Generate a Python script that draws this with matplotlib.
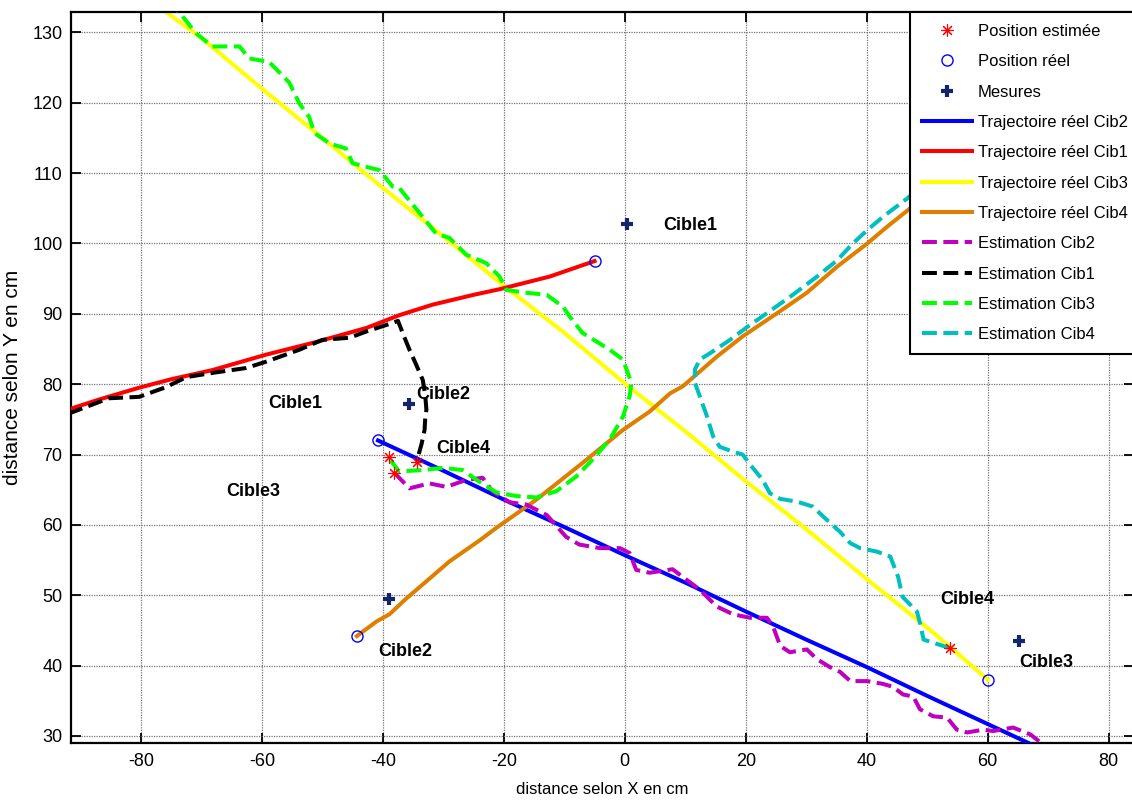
import matplotlib
matplotlib.use('Agg')
import matplotlib.pyplot as plt

plt.rcParams['font.family'] = ['Liberation Sans', 'DejaVu Sans']
plt.rcParams['axes.unicode_minus'] = False
fs = 13

# trajectoires reelles
cib1_x = [-92, -87, -80.3, -75, -68.2, -59.3, -51, -42.7, -37.3, -31.8, -25, -20.7, -12.4, -5.0]
cib1_y = [76.4, 77.8, 79.5, 80.7, 82.0, 84.2, 86.0, 88.0, 89.8, 91.3, 92.7, 93.5, 95.3, 97.5]
cib2_x = [-40.8, -30, -20, -10, 0, 10, 20, 30, 40, 50, 60, 67]
cib2_y = [72.0, 67.7, 63.6, 59.7, 55.7, 51.8, 47.7, 43.7, 39.8, 35.7, 31.7, 28.9]
cib3_x = [-76, -70, -60, -50, -40, -30, -20, -10, 0, 10, 20, 30, 40, 50, 54, 60]
cib3_y = [133, 129.2, 122, 115, 107.9, 101, 94, 87.3, 80.1, 73.3, 66.2, 59.4, 52.3, 45.4, 42.5, 38]
cib4_x = [-44.3, -41, -38.9, -36.3, -29, -24, -21.2, -14.6, -7, -0.3, 4.1, 7.5, 9.6, 15.2,
          19.5, 25.2, 30.1, 35.1, 40.1, 43.4, 46.9, 52, 58]
cib4_y = [44.2, 46.3, 47.3, 49.4, 54.8, 57.8, 59.6, 63.6, 68.8, 73.5, 76.1, 78.7, 79.7, 83.9,
          86.8, 90.1, 93.0, 96.7, 100.0, 102.4, 104.8, 108.5, 112.5]

# estimations
est1_x = [-92, -85.3, -80.3, -75.8, -72.5, -68.2, -62.6, -59.3, -53.8, -50, -45.5, -42.7, -38.4,
          -37.5, -36.5, -35.6, -34.5, -33.4, -33.0, -32.8, -33.0, -33.1, -33.6, -34.4]
est1_y = [75.8, 78.0, 78.2, 79.6, 81.0, 81.6, 82.3, 83.2, 84.9, 86.3, 86.6, 87.5, 88.7,
          89.0, 86.8, 84.9, 82.8, 80.6, 78.5, 76.4, 75.0, 73.5, 71.5, 69.0]
est2_x = [-38.1, -35.6, -32.3, -29.5, -26.2, -23.5, -21.9, -19, -16.3, -12.9, -9.7, -7.5, -4.1,
          -0.8, 0.8, 1.9, 4.1, 7.9, 9.6, 12.4, 15.2, 17.9, 20.7, 23.5, 24.5, 25.7, 27.3, 30.1,
          31.8, 33.9, 35.6, 37.3, 40.1, 42.7, 44.3, 46, 47.7, 48.8, 51, 53.3, 54.9, 56.6, 59.3,
          60.9, 64.2, 67.1, 68.7]
est2_y = [67.4, 65.2, 65.9, 65.4, 66.4, 66.7, 64.8, 63.2, 62.9, 61.4, 58.3, 57.2, 56.7,
          56.7, 56.0, 53.6, 53.2, 53.7, 52.6, 50.8, 48.4, 47.3, 46.8, 46.8, 45.6, 42.8, 41.9, 42.3,
          40.9, 39.8, 39.1, 37.8, 37.8, 37.4, 37.0, 35.9, 35.6, 33.8, 32.8, 32.6, 30.9, 30.5, 30.9,
          30.7, 31.2, 30.2, 29.1]
est3_x = [-75.5, -73.7, -70.9, -68.2, -63.7, -62.1, -58.8, -55.5, -53.8, -52.2, -51.3, -48.8, -46.1,
          -45.0, -40.5, -38.4, -37.3, -33.9, -31.2, -29.0, -26.2, -22.9, -20.7, -19.6, -16.3,
          -12.9, -10.2, -9.1, -7.0, -2.5, -0.3, 1.1, 0.8, -0.3, -2.5, -5.3, -8.0, -11.3, -14.6,
          -17.9, -21.2, -24.5, -26.8, -30.1, -33.4, -37.3, -38.4, -39.0]
est3_y = [134.5, 132.9, 129.9, 128, 128, 126.3, 125.8, 122.9, 119.9, 118, 115.7, 114.2, 113.5,
          111.4, 110.4, 108.1, 107.9, 104.3, 101.4, 100.8, 98.4, 97.2, 95.3, 93.4, 93,
          92.7, 91.0, 89.6, 87.3, 84.9, 83.5, 80.2, 78.3, 75.4, 72.1, 69.3, 66.9, 64.8, 63.9,
          64.1, 64.6, 66.4, 67.8, 68.1, 67.8, 67.6, 68.8, 69.8]
est4_x = [53.7, 49.4, 48.8, 48.3, 45.9, 45.2, 43.9, 41.7, 38.9, 37.3, 35.6, 32.8, 31.1, 28.5,
          25.7, 24.0, 22.8, 20.7, 19.5, 17.9, 15.7, 14.6, 13.6, 12.4, 11.6, 11.6, 12.4, 14.1,
          17.4, 20.2, 23.5, 27.3, 31.8, 35.1, 37.7, 40.1, 42.7, 46.7, 52, 58]
est4_y = [42.5, 43.7, 46.1, 47.7, 49.8, 52.6, 55.5, 56.2, 56.7, 57.4, 59.0, 61.2, 62.6, 63.3,
          63.7, 64.5, 66.4, 68.6, 70.0, 70.4, 71.1, 72.6, 75.4, 78.3, 80.2, 82.1, 83.5, 84.4,
          86.3, 88.1, 90.1, 92.4, 95.3, 97.6, 100.0, 101.9, 103.8, 106.4, 110.5, 115]

# points
pos_est_x = [-34.4, -38.1, -38.9, 53.7]
pos_est_y = [69.0, 67.4, 69.7, 42.5]
pos_reel_x = [-5.0, -40.8, -44.3, 60.0]
pos_reel_y = [97.5, 72.0, 44.2, 38.0]
mes_x = [0.3, -35.6, -38.9, 65.1]
mes_y = [102.8, 77.2, 49.4, 43.5]

cible_txt = ['Cible1', 'Cible2', 'Cible3', 'Cible4', 'Cible1', 'Cible2', 'Cible3', 'Cible4']
cible_x = [6.3, -34.5, 65.2, -31.1, -59.0, -40.8, -65.9, 52.2]
cible_y = [102.5, 78.5, 40.4, 70.8, 77.2, 42.0, 64.7, 49.4]

fig = plt.figure(figsize=(11.32, 8.05), dpi=100)
ax = fig.add_axes([0.0625, 0.077, 0.9393, 0.9081])

lw = 2.9
ax.plot(pos_est_x, pos_est_y, ls='none', marker=(8, 2, 0), ms=9, mec='red', mew=0.8,
        label='Position estimée', zorder=6)
ax.plot(pos_reel_x, pos_reel_y, ls='none', marker='o', ms=8, mfc='none', mec='blue', mew=1,
        label='Position réel', zorder=6)
ax.plot(mes_x, mes_y, ls='none', marker='+', ms=9, mec='#14256b', mew=3,
        label='Mesures', zorder=6)

ax.plot(cib2_x, cib2_y, c='blue', lw=lw, label='Trajectoire réel Cib2', zorder=3)
ax.plot(cib1_x, cib1_y, c='red', lw=lw, label='Trajectoire réel Cib1', zorder=3)
ax.plot(cib3_x, cib3_y, c='yellow', lw=lw, label='Trajectoire réel Cib3', zorder=2)
ax.plot(cib4_x, cib4_y, c='#de7f00', lw=lw, label='Trajectoire réel Cib4', zorder=3)

ax.plot(est2_x, est2_y, c='#bf00bf', lw=lw, ls='--', label='Estimation Cib2', zorder=4)
ax.plot(est1_x, est1_y, c='black', lw=lw, ls='--', label='Estimation Cib1', zorder=4)
ax.plot(est3_x, est3_y, c='#00ff00', lw=lw, ls='--', label='Estimation Cib3', zorder=4)
ax.plot(est4_x, est4_y, c='#00bfbf', lw=lw, ls='--', label='Estimation Cib4', zorder=4)

for t, x, y in zip(cible_txt, cible_x, cible_y):
    ax.text(x, y, t, fontsize=fs, fontweight='bold', ha='left', va='center', zorder=7)

ax.set_xlim(-91.6, 84.2)
ax.set_ylim(29.0, 132.9)
ax.set_xticks([-80, -60, -40, -20, 0, 20, 40, 60, 80])
ax.set_yticks([30, 40, 50, 60, 70, 80, 90, 100, 110, 120, 130])
ax.grid(True, color='0.45', ls=(0, (1, 1)), lw=0.9)
ax.tick_params(direction='in', top=True, right=True, length=7, width=1.3,
               labelsize=fs, pad=6)
ax.tick_params(axis='x', pad=7)
for s in ax.spines.values():
    s.set_linewidth(1.6)

ax.set_xlabel('distance selon X en cm', fontsize=fs - 1, labelpad=9)
ax.set_ylabel('distance selon Y en cm', fontsize=15, labelpad=7)

leg = ax.legend(loc='upper left', bbox_to_anchor=(0.7893, 1.0), borderaxespad=0,
                fontsize=12, numpoints=1, handlelength=3.0, handletextpad=0.33,
                labelspacing=0.92, borderpad=0.72, fancybox=False, framealpha=1,
                edgecolor='black')
leg.get_frame().set_linewidth(1.5)
leg.set_zorder(10)

plt.savefig('out.png', dpi=100)
